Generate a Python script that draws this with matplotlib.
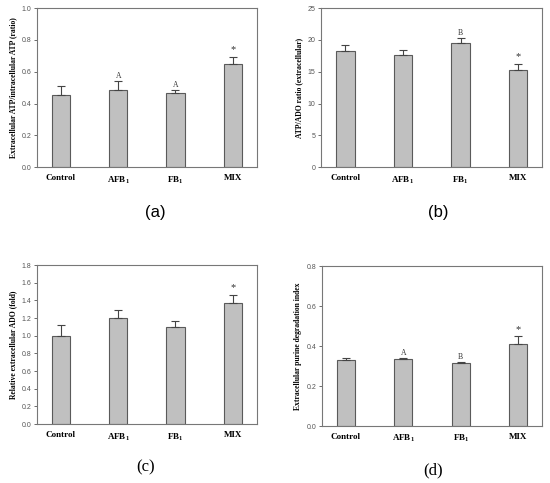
import matplotlib

matplotlib.use("Agg")

import matplotlib.pyplot as plt  # noqa: E402
import numpy as np  # noqa: E402

groups = ["Control", "AFB$_\\mathregular{1}$", "FB$_\\mathregular{1}$", "MIX"]

# panel (a) extracellular/intracellular ATP
atp_ratio = [0.455, 0.485, 0.465, 0.648]
atp_ratio_err = [0.055, 0.06, 0.02, 0.047]
atp_ratio_marks = ["", "A", "A", "*"]

# panel (b) ATP/ADO ratio
atp_ado = [18.3, 17.6, 19.6, 15.3]
atp_ado_err = [0.9, 0.9, 0.7, 1.0]
atp_ado_marks = ["", "", "B", "*"]

# panel (c) relative extracellular ADO
rel_ado = [1.0, 1.2, 1.105, 1.37]
rel_ado_err = [0.12, 0.09, 0.065, 0.09]
rel_ado_marks = ["", "", "", "*"]

# panel (d) purine degradation index
purine = [0.33, 0.335, 0.317, 0.408]
purine_err = [0.008, 0.005, 0.005, 0.04]
purine_marks = ["", "A", "B", "*"]

SERIF = ["Liberation Serif", "DejaVu Serif"]
SANS = ["Liberation Sans", "DejaVu Sans"]
BAR = "#c0c0c0"
EDGE = "#5a5a5a"

fig = plt.figure(figsize=(5.5, 4.83), dpi=100)


def draw_panel(rect, vals, errs, marks, ylim, step, ylabel, tag, tag_xy, tag_family, fmt):
    ax = fig.add_axes(rect)
    x = np.arange(len(vals))
    ax.bar(x, vals, width=0.32, color=BAR, edgecolor=EDGE, linewidth=0.8, zorder=2)
    ax.errorbar(x, vals, yerr=[np.zeros(len(errs)), errs], fmt="none",
                ecolor="#444444", elinewidth=0.8, capsize=3, capthick=0.8, zorder=3)
    span = ylim[1] - ylim[0]
    for xi, v, e, m in zip(x, vals, errs, marks):
        if not m:
            continue
        off = 0.045 * span if m == "*" else 0.03 * span
        ax.text(xi, v + e + off, m, ha="center", va="center",
                fontsize=7.5 if m == "*" else 5.5, family=SERIF, color="#333333")
    ax.set_xlim(-0.42, 3.42)
    ax.set_ylim(*ylim)
    ticks = np.arange(ylim[0], ylim[1] + step / 2, step)
    ax.set_yticks(ticks)
    ax.set_yticklabels([fmt.format(t) for t in ticks], fontsize=5, family=SANS, color="#333333")
    ax.set_xticks(x)
    ax.set_xticklabels(groups, fontsize=6.5, family=SERIF, fontweight="bold")
    ax.tick_params(axis="x", length=0, pad=5)
    ax.tick_params(axis="y", length=2, width=0.6, pad=2, colors="#555555")
    ax.set_ylabel(ylabel, fontsize=5.5, family=SERIF, fontweight="bold", labelpad=3)
    for s in ax.spines.values():
        s.set_color("#777777")
        s.set_linewidth(0.8)
    fig.text(tag_xy[0], tag_xy[1], tag, ha="center", va="center", fontsize=12, family=tag_family)
    return ax


draw_panel([0.067, 0.654, 0.40, 0.329], atp_ratio, atp_ratio_err, atp_ratio_marks,
           (0, 1.0), 0.2, "Extracellular ATP/intracellular ATP (ratio)", "(a)",
           (0.282, 0.561), SANS, "{:.1f}")
draw_panel([0.584, 0.654, 0.402, 0.329], atp_ado, atp_ado_err, atp_ado_marks,
           (0, 25), 5, "ATP/ADO ratio (extracellular)", "(b)",
           (0.797, 0.561), SANS, "{:.0f}")
draw_panel([0.067, 0.122, 0.40, 0.329], rel_ado, rel_ado_err, rel_ado_marks,
           (0, 1.8), 0.2, "Relative extracellular ADO (fold)", "(c)",
           (0.264, 0.033), SERIF, "{:.1f}")
draw_panel([0.585, 0.118, 0.401, 0.331], purine, purine_err, purine_marks,
           (0, 0.8), 0.2, "Extracellular purine degradation index", "(d)",
           (0.788, 0.027), SERIF, "{:.1f}")

fig.savefig("out.png", dpi=100)
plt.close(fig)
